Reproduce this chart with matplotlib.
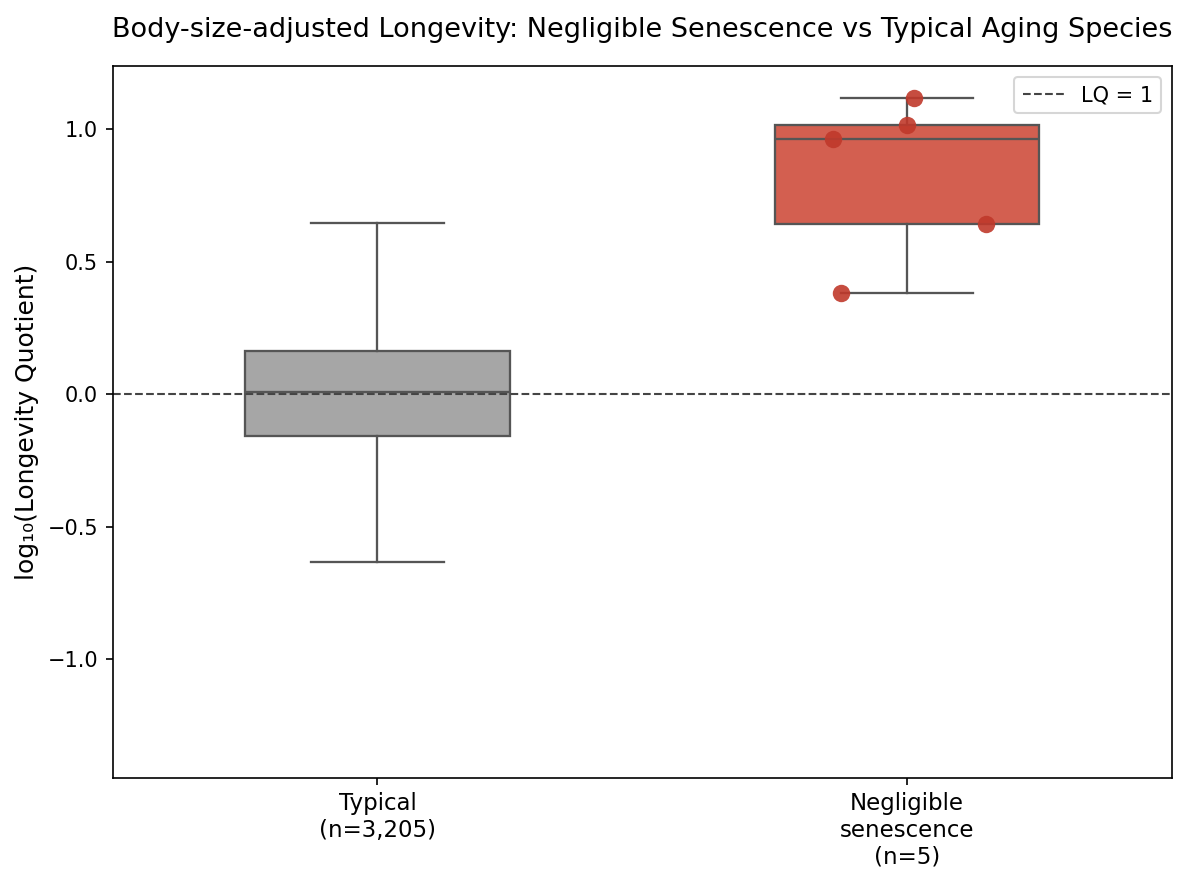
import matplotlib.pyplot as plt
import numpy as np

# data
groups = ["Typical\n(n=3,205)", "Negligible\nsenescence\n(n=5)"]
whislo = [-0.634, 0.381]
q1 = [-0.158, 0.642]
med = [0.008, 0.962]
q3 = [0.165, 1.015]
whishi = [0.645, 1.117]

neg_points = [0.962, 1.015, 1.117, 0.642, 0.381]
neg_jitter = [-0.140, 0.0, 0.013, 0.149, -0.125]

box_colors = ["#a6a6a6", "#d35f50"]
line_color = "#555555"

fig, ax = plt.subplots(figsize=(7.907, 5.9), dpi=150)

stats = []
for i in range(len(groups)):
    stats.append(dict(whislo=whislo[i], q1=q1[i], med=med[i], q3=q3[i],
                      whishi=whishi[i], fliers=[]))

pos = np.arange(len(groups))
bp = ax.bxp(stats, positions=pos, widths=0.5, patch_artist=True,
            showfliers=False,
            boxprops=dict(edgecolor=line_color, linewidth=1.1),
            medianprops=dict(color=line_color, linewidth=1.1),
            whiskerprops=dict(color=line_color, linewidth=1.1),
            capprops=dict(color=line_color, linewidth=1.1),
            capwidths=0.25)
for patch, c in zip(bp["boxes"], box_colors):
    patch.set_facecolor(c)

ax.scatter(1 + np.array(neg_jitter), neg_points, s=70, color="#c0392b",
           alpha=0.9, zorder=4, linewidths=0)

ax.axhline(0, color="#444444", linestyle="--", linewidth=1, label="LQ = 1")
ax.legend(loc="upper right", fontsize=10)

ax.set_xlim(-0.5, 1.5)
ax.set_ylim(-1.449, 1.238)
ax.set_xticks(pos)
ax.set_xticklabels(groups, fontsize=11)
ax.set_yticks([-1.0, -0.5, 0.0, 0.5, 1.0])
ax.set_ylabel("log₁₀(Longevity Quotient)", fontsize=12)
ax.set_title("Body-size-adjusted Longevity: Negligible Senescence vs Typical Aging Species",
             fontsize=13, pad=14)

plt.subplots_adjust(left=0.095, right=0.988, top=0.925, bottom=0.121)
plt.savefig("out.png", dpi=150)
